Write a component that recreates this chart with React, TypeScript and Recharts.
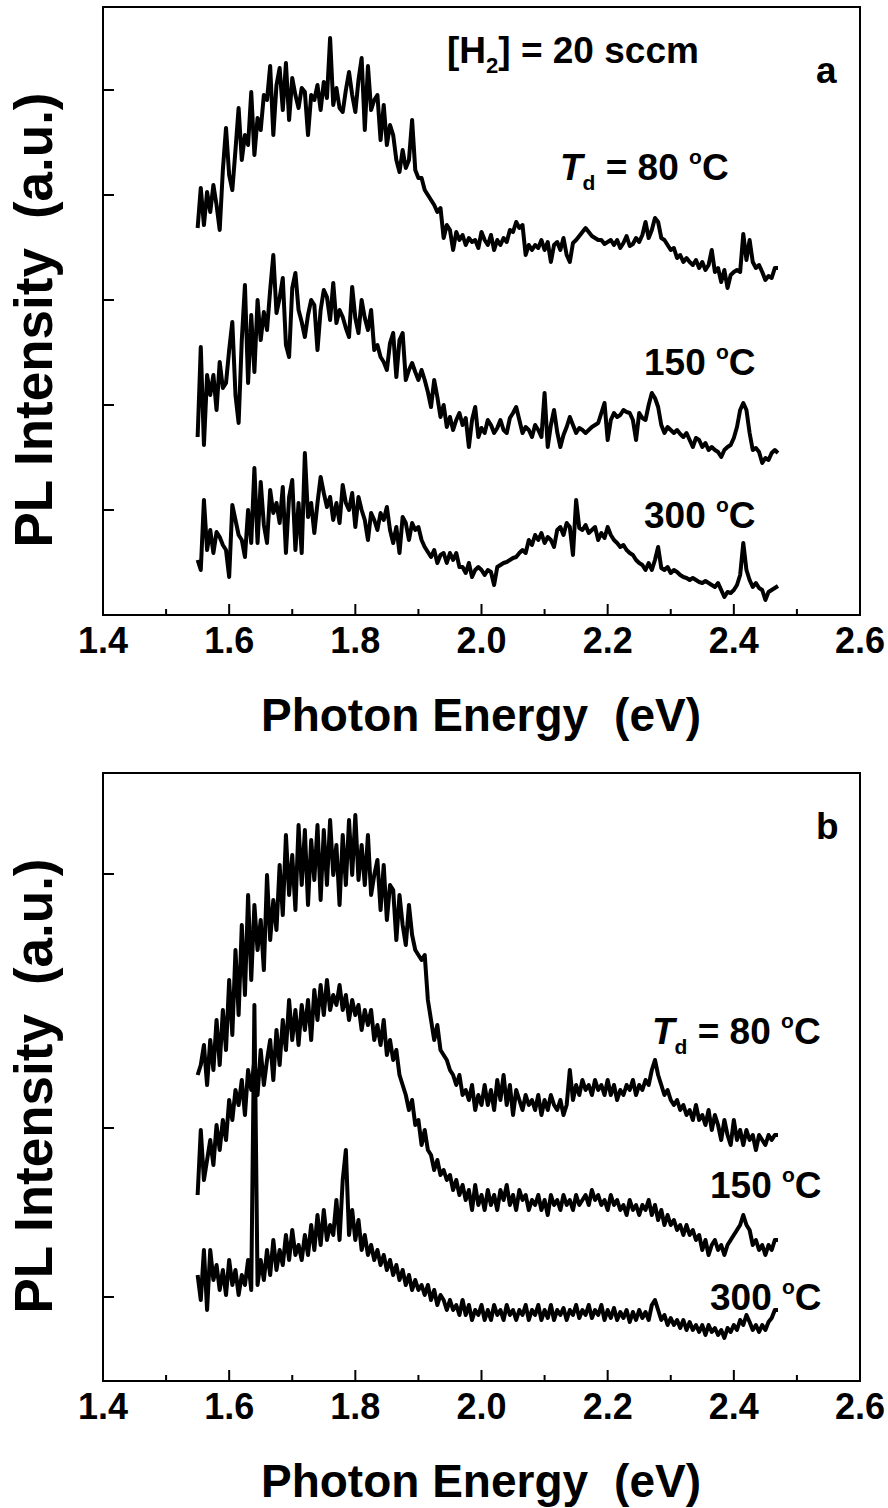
import React from 'react';
import { LineChart, Line, XAxis, YAxis, ReferenceArea } from 'recharts';

const FONT = '"Liberation Sans", Arial, Helvetica, sans-serif';

// photon energy sampling: 5 meV steps starting at 1.55 eV
const E_START = 1.55;
const E_STEP = 0.005;

const xTicks = [1.4, 1.5, 1.6, 1.7, 1.8, 1.9, 2.0, 2.1, 2.2, 2.3, 2.4, 2.5, 2.6];
const yTicksA = [105, 210, 315, 420, 525];
const yTicksB = [84, 253, 507];

// panel a, [H2] = 20 sccm (intensity, a.u., curves already offset)
const a80 = [
  387, 427, 390, 423, 403, 430, 410, 385, 445, 487, 440, 425, 465, 507, 455, 480, 470, 523, 460, 497,
  485, 520, 515, 549, 480, 530, 547, 505, 552, 495, 537, 520, 507, 527, 523, 480, 520, 515, 530, 505,
  533, 517, 577, 510, 527, 507, 503, 525, 543, 520, 503, 535, 557, 485, 549, 505, 515, 520, 475, 510,
  470, 490, 480, 455, 443, 465, 447, 455, 495, 445, 437, 437, 425, 420, 415, 410, 403, 407, 377, 390,
  385, 365, 383, 375, 380, 370, 377, 373, 375, 367, 383, 375, 370, 380, 365, 375, 370, 377, 373, 385,
  383, 393, 387, 390, 360, 370, 365, 370, 367, 375, 365, 373, 353, 370, 373, 365, 377, 360, 353, 372,
  375, 379, 383, 387, 383, 379, 377, 375, 375, 371, 373, 375, 370, 375, 367, 372, 379, 369, 371, 377,
  373, 380, 393, 377, 385, 397, 393, 377, 375, 370, 365, 367, 357, 360, 353, 357, 353, 350, 355, 347,
  353, 345, 350, 365, 343, 347, 333, 345, 327, 340, 343, 345, 343, 381, 355, 375, 353, 347, 350, 343,
  335, 339, 337, 347, 347,
];
const a150 = [
  178, 268, 170, 240, 220, 240, 205, 253, 227, 232, 265, 293, 220, 192, 275, 330, 232, 300, 243, 315,
  275, 303, 285, 325, 360, 302, 317, 337, 270, 258, 327, 342, 305, 293, 278, 300, 315, 310, 265, 305,
  325, 318, 295, 332, 292, 305, 298, 287, 278, 328, 297, 282, 315, 297, 285, 305, 265, 270, 258, 253,
  245, 272, 282, 238, 275, 282, 235, 245, 252, 243, 235, 245, 235, 223, 208, 235, 218, 198, 210, 188,
  198, 185, 195, 202, 190, 197, 168, 195, 208, 178, 187, 182, 195, 190, 182, 187, 195, 185, 182, 197,
  202, 208, 195, 182, 188, 185, 178, 190, 185, 178, 222, 168, 190, 205, 183, 168, 180, 188, 198, 190,
  182, 187, 185, 182, 185, 188, 190, 192, 202, 212, 175, 195, 202, 198, 200, 205, 203, 202, 195, 175,
  202, 197, 195, 210, 222, 217, 208, 190, 182, 188, 185, 182, 185, 181, 178, 182, 175, 168, 177, 175,
  168, 172, 165, 168, 165, 163, 158, 165, 168, 170, 177, 188, 205, 212, 205, 182, 165, 167, 163, 152,
  157, 155, 162, 165, 162,
];
const a300 = [
  55, 45, 115, 65, 85, 62, 83, 78, 70, 65, 38, 110, 95, 80, 75, 58, 105, 72, 147, 72,
  133, 90, 72, 125, 102, 112, 92, 128, 62, 118, 135, 65, 112, 62, 162, 98, 112, 82, 112, 138,
  122, 108, 118, 95, 112, 92, 130, 112, 105, 122, 88, 118, 105, 95, 75, 102, 95, 85, 102, 95,
  108, 85, 72, 88, 62, 98, 92, 75, 92, 85, 88, 75, 68, 63, 58, 65, 52, 60, 62, 52,
  62, 55, 62, 48, 48, 42, 52, 38, 45, 48, 45, 40, 45, 43, 30, 48, 50, 52, 53, 55,
  57, 58, 62, 65, 62, 75, 70, 80, 75, 82, 72, 78, 75, 68, 85, 88, 80, 92, 88, 60,
  115, 87, 85, 90, 82, 85, 88, 75, 82, 77, 88, 80, 75, 72, 68, 70, 65, 62, 60, 55,
  52, 50, 45, 52, 45, 55, 68, 47, 45, 48, 42, 45, 43, 40, 38, 37, 35, 37, 35, 33,
  32, 34, 32, 30, 28, 32, 25, 18, 23, 22, 25, 30, 40, 72, 45, 35, 28, 32, 27, 25,
  15, 23, 25, 27, 29,
];

// panel b
const b80 = [
  306, 316, 336, 296, 341, 311, 361, 316, 371, 331, 401, 346, 431, 366, 456, 386, 486, 401, 476, 431,
  461, 411, 506, 441, 481, 451, 516, 466, 546, 486, 526, 471, 556, 496, 551, 476, 541, 501, 556, 481,
  551, 496, 561, 506, 536, 476, 546, 496, 561, 506, 566, 501, 536, 496, 546, 486, 506, 521, 471, 516,
  461, 496, 491, 441, 486, 456, 436, 476, 446, 431, 426, 421, 426, 381, 361, 341, 356, 331, 326, 321,
  311, 306, 296, 306, 286, 291, 281, 296, 271, 286, 276, 296, 276, 291, 271, 301, 281, 306, 276, 296,
  266, 291, 281, 271, 286, 276, 281, 271, 286, 266, 281, 271, 286, 276, 271, 281, 266, 276, 311, 281,
  296, 286, 301, 291, 296, 286, 301, 291, 296, 286, 301, 286, 296, 281, 291, 286, 296, 291, 301, 286,
  296, 291, 301, 296, 311, 321, 306, 296, 286, 291, 281, 276, 281, 271, 276, 266, 271, 261, 276, 261,
  266, 256, 271, 251, 266, 256, 241, 261, 246, 236, 261, 241, 251, 236, 251, 241, 246, 231, 246, 241,
  236, 246, 241, 246, 246,
];
const b150 = [
  186, 251, 201, 221, 241, 216, 256, 231, 261, 241, 281, 261, 291, 276, 301, 266, 311, 291, 321, 286,
  331, 296, 321, 341, 301, 351, 316, 361, 331, 381, 341, 371, 336, 376, 351, 381, 341, 391, 361, 396,
  366, 401, 371, 386, 376, 396, 371, 386, 361, 381, 366, 376, 351, 371, 356, 371, 341, 356, 336, 361,
  326, 341, 321, 331, 306, 296, 286, 271, 281, 256, 261, 236, 251, 231, 226, 211, 221, 206, 211, 201,
  206, 191, 201, 186, 196, 181, 191, 171, 196, 176, 186, 171, 191, 176, 186, 171, 191, 181, 196, 176,
  186, 171, 191, 181, 186, 171, 181, 176, 186, 171, 181, 166, 186, 176, 181, 171, 186, 176, 181, 171,
  186, 176, 181, 186, 176, 191, 181, 186, 176, 181, 171, 186, 176, 181, 171, 176, 166, 181, 171, 176,
  166, 176, 171, 181, 166, 176, 161, 171, 156, 166, 156, 161, 151, 156, 146, 156, 146, 151, 141, 146,
  131, 141, 126, 136, 141, 131, 136, 126, 136, 141, 146, 151, 156, 166, 156, 151, 136, 141, 131, 136,
  126, 136, 131, 141, 141,
];
const b300 = [
  106, 81, 131, 71, 131, 101, 116, 91, 111, 86, 121, 96, 111, 86, 106, 96, 121, 91, 376, 96,
  121, 101, 131, 106, 141, 111, 131, 116, 146, 121, 151, 126, 136, 121, 146, 126, 156, 131, 166, 136,
  171, 141, 156, 146, 181, 141, 201, 231, 146, 171, 141, 161, 131, 146, 126, 136, 121, 131, 116, 126,
  111, 121, 106, 116, 101, 111, 96, 106, 91, 101, 91, 96, 86, 96, 81, 91, 76, 86, 81, 71,
  81, 71, 76, 66, 81, 66, 76, 61, 71, 66, 76, 61, 71, 61, 76, 66, 71, 61, 76, 66,
  71, 61, 71, 66, 76, 61, 71, 66, 76, 61, 71, 63, 76, 61, 71, 66, 73, 61, 71, 66,
  76, 63, 71, 66, 76, 63, 71, 66, 76, 61, 71, 63, 73, 61, 69, 63, 71, 59, 69, 61,
  71, 63, 69, 61, 76, 81, 71, 61, 66, 56, 63, 56, 61, 53, 61, 51, 59, 51, 56, 49,
  56, 46, 56, 49, 53, 46, 51, 43, 53, 49, 56, 51, 61, 56, 66, 59, 51, 56, 49, 56,
  51, 59, 63, 71, 71,
];

const buildRows = (s80: number[], s150: number[], s300: number[]) =>
  s80.map((v, i) => ({
    e: +(E_START + i * E_STEP).toFixed(3),
    t80: v,
    t150: s150[i],
    t300: s300[i],
  }));

const rowsA = buildRows(a80, a150, a300);
const rowsB = buildRows(b80, b150, b300);

const W = 888;
const H = 766;
const MARGIN = { top: 7, right: 28, left: 102, bottom: 150 };

const XTick = (props: any) => {
  const { x, y, payload } = props;
  const v = payload.value as number;
  const major = Math.round(v * 10) % 2 === 0;
  return (
    <g>
      <line x1={x} x2={x} y1={y} y2={y - (major ? 11 : 6)} stroke="#000" strokeWidth={2} />
      {major && (
        <text x={x} y={y + 38} textAnchor="middle" fontFamily={FONT} fontWeight="bold" fontSize={36} fill="#000">
          {v.toFixed(1)}
        </text>
      )}
    </g>
  );
};

const YTick = (props: any) => {
  const { x, y } = props;
  return <line x1={x} x2={x + 11} y1={y} y2={y} stroke="#000" strokeWidth={2} />;
};

const Panel = ({ rows, yTicks, top }: { rows: any[]; yTicks: number[]; top: number }) => (
  <div style={{ position: 'absolute', left: 0, top }}>
    <LineChart width={W} height={H} data={rows} margin={MARGIN}>
      <XAxis
        dataKey="e"
        type="number"
        domain={[1.4, 2.6]}
        ticks={xTicks}
        interval={0}
        height={1}
        tickSize={0}
        tickMargin={0}
        axisLine={false}
        tickLine={false}
        tick={(p: any) => <XTick {...p} />}
        allowDataOverflow
      />
      <YAxis
        type="number"
        domain={[0, 608]}
        ticks={yTicks}
        interval={0}
        width={1}
        tickSize={0}
        tickMargin={0}
        axisLine={false}
        tickLine={false}
        tick={(p: any) => <YTick {...p} />}
        allowDataOverflow
      />
      <ReferenceArea x1={1.4} x2={2.6} y1={0} y2={608} fill="none" stroke="#000" strokeWidth={2} ifOverflow="visible" />
      {['t80', 't150', 't300'].map((k) => (
        <Line
          key={k}
          dataKey={k}
          type="linear"
          stroke="#000"
          strokeWidth={4}
          strokeLinejoin="round"
          dot={false}
          activeDot={false}
          isAnimationActive={false}
        />
      ))}
    </LineChart>
  </div>
);

const Deg = ({ label }: { label: string }) => (
  <>
    {label}
    <tspan dy={-16} fontSize={21}>o</tspan>
    <tspan dy={16}>C</tspan>
  </>
);

const TdLabel = ({ x, y }: { x: number; y: number }) => (
  <text x={x} y={y}>
    <tspan fontStyle="italic">T</tspan>
    <tspan dy={10} fontSize={21}>d</tspan>
    <tspan dy={-10}>{' = 80 '}</tspan>
    <tspan dy={-16} fontSize={21}>o</tspan>
    <tspan dy={16}>C</tspan>
  </text>
);

const XTitle = ({ y }: { y: number }) => (
  <text x={481} y={y} textAnchor="middle" fontSize={46}>
    Photon Energy<tspan dx={26}>(eV)</tspan>
  </text>
);

const YTitle = ({ cy }: { cy: number }) => (
  <text transform={`translate(52,${cy}) rotate(-90)`} textAnchor="middle" fontSize={53}>
    PL Intensity<tspan dx={29}>(a.u.)</tspan>
  </text>
);

const Labels = () => (
  <svg
    width={W}
    height={1508}
    style={{ position: 'absolute', left: 0, top: 0, pointerEvents: 'none' }}
    fontFamily={FONT}
    fontWeight="bold"
    fill="#000"
  >
    {/* axis titles */}
    <XTitle y={731} />
    <XTitle y={1497} />
    <YTitle cy={320} />
    <YTitle cy={1086} />

    {/* panel a annotations */}
    <g fontSize={37}>
      <text x={447} y={63}>
        [H<tspan dy={10} fontSize={22}>2</tspan>
        <tspan dy={-10}>] = 20 sccm</tspan>
      </text>
      <text x={816} y={83}>a</text>
      <TdLabel x={560} y={180} />
      <text x={644} y={375}><Deg label="150 " /></text>
      <text x={644} y={528}><Deg label="300 " /></text>
    </g>

    {/* panel b annotations */}
    <g fontSize={37}>
      <text x={816} y={839}>b</text>
      <TdLabel x={652} y={1044} />
      <text x={710} y={1198}><Deg label="150 " /></text>
      <text x={710} y={1310}><Deg label="300 " /></text>
    </g>
  </svg>
);

export default function App() {
  return (
    <div style={{ position: 'absolute', left: 0, top: 0, width: W, height: 1508, background: '#fff', overflow: 'hidden' }}>
      <Panel rows={rowsA} yTicks={yTicksA} top={0} />
      <Panel rows={rowsB} yTicks={yTicksB} top={766} />
      <Labels />
    </div>
  );
}
